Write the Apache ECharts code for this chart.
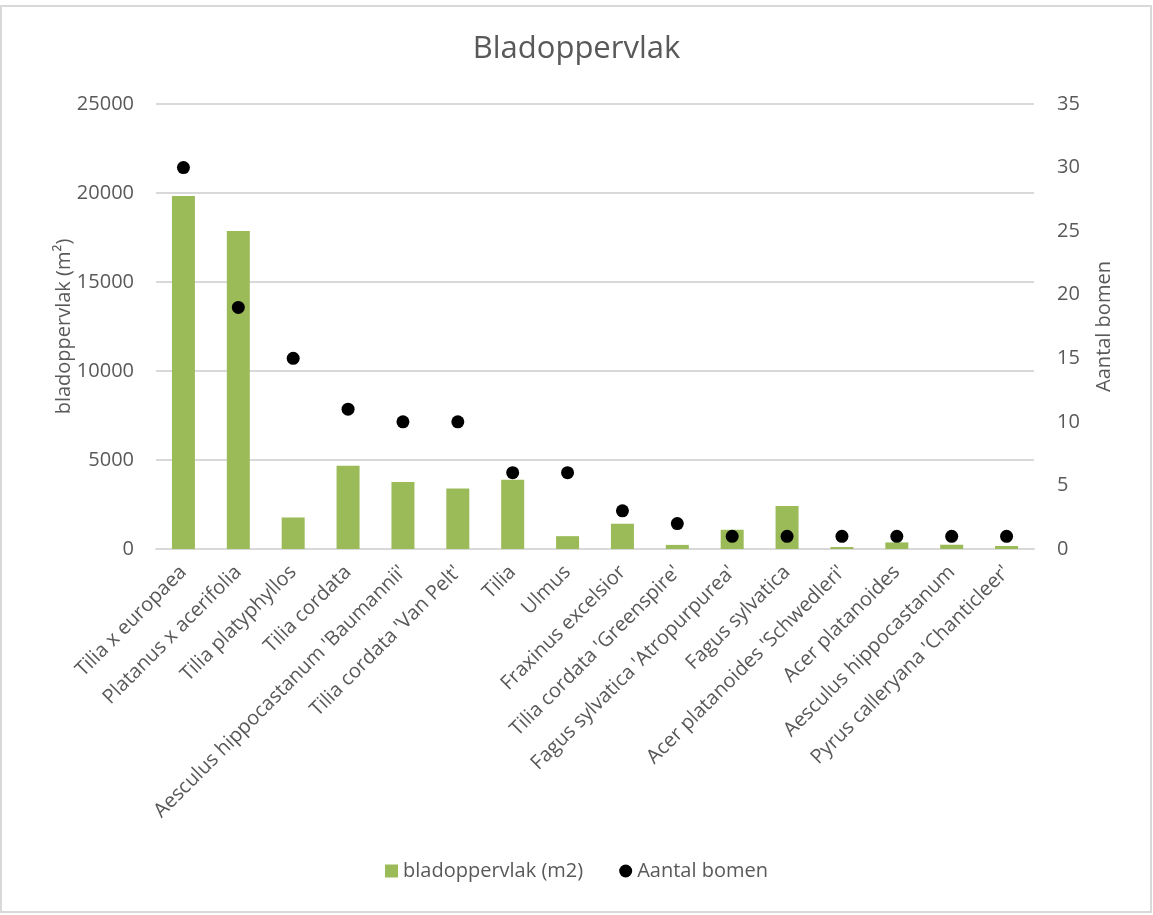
<!DOCTYPE html>
<html>
<head>
<meta charset="utf-8">
<title>Bladoppervlak</title>
<script src="https://cdn.jsdelivr.net/npm/echarts@6/dist/echarts.min.js"></script>
<style>
  html, body { margin: 0; padding: 0; background: #fff; }
  #chart { width: 1153px; height: 915px; }
</style>
</head>
<body>
<div id="chart"></div>
<script>
// soorten (categorieen)
var soorten = [
  'Tilia x europaea', 'Platanus x acerifolia', 'Tilia platyphyllos', 'Tilia cordata',
  "Aesculus hippocastanum 'Baumannii'", "Tilia cordata 'Van Pelt'", 'Tilia', 'Ulmus',
  'Fraxinus excelsior', "Tilia cordata 'Greenspire'", "Fagus sylvatica 'Atropurpurea'",
  'Fagus sylvatica', "Acer platanoides 'Schwedleri'", 'Acer platanoides',
  'Aesculus hippocastanum', "Pyrus calleryana 'Chanticleer'"
]
// bladoppervlak (m2) per soort
var bladoppervlak = [19830, 17870, 1770, 4670, 3760, 3400, 3890, 720, 1420, 230, 1080, 2410, 110, 370, 240, 170]
// aantal bomen per soort
var aantalBomen = [30, 19, 15, 11, 10, 10, 6, 6, 3, 2, 1, 1, 1, 1, 1, 1]

var grijs = '#595959'
var font = 'Open Sans'

var chart = echarts.init(document.getElementById('chart'))
var option = {
  animation: false,
  textStyle: { fontFamily: font },
  title: {
    text: 'Bladoppervlak',
    left: 'center',
    top: 29,
    textStyle: { color: grijs, fontSize: 31, fontWeight: 'normal', fontFamily: font }
  },
  graphic: [{
    type: 'rect',
    silent: true,
    shape: { x: 1, y: 6, width: 1150, height: 906 },
    style: { fill: 'none', stroke: '#d9d9d9', lineWidth: 2 }
  }],
  legend: {
    bottom: 29,
    left: 'center',
    itemGap: 36,
    itemWidth: 13,
    itemHeight: 13,
    textStyle: { color: grijs, fontSize: 20, fontFamily: font },
    data: [
      { name: 'bladoppervlak (m2)', icon: 'rect' },
      { name: 'Aantal bomen', icon: 'circle' }
    ]
  },
  grid: {
    left: 156,
    right: 119,
    top: 104,
    bottom: 366,
    containLabel: false,
    outerBoundsMode: 'none'
  },
  xAxis: {
    type: 'category',
    data: soorten,
    axisTick: { show: false },
    axisLine: { lineStyle: { color: '#d9d9d9', width: 2 } },
    axisLabel: {
      rotate: 45,
      interval: 0,
      margin: 20,
      color: grijs,
      fontSize: 20,
      fontFamily: font
    }
  },
  yAxis: [
    {
      type: 'value',
      min: 0,
      max: 25000,
      interval: 5000,
      name: 'bladoppervlak (m²)',
      nameLocation: 'middle',
      nameGap: 82,
      nameMoveOverlap: false,
      nameTextStyle: { color: grijs, fontSize: 20, fontFamily: font },
      axisLine: { show: false },
      axisTick: { show: false },
      axisLabel: {
        color: grijs, fontSize: 20, margin: 22, fontFamily: font,
        formatter: function (v) { return String(v) }
      },
      splitLine: { lineStyle: { color: '#d9d9d9', width: 2 } }
    },
    {
      type: 'value',
      min: 0,
      max: 35,
      interval: 5,
      name: 'Aantal bomen',
      nameLocation: 'middle',
      nameGap: 60,
      nameMoveOverlap: false,
      nameTextStyle: { color: grijs, fontSize: 20, fontFamily: font },
      axisLine: { show: false },
      axisTick: { show: false },
      axisLabel: { color: grijs, fontSize: 20, margin: 23, fontFamily: font },
      splitLine: { show: false }
    }
  ],
  series: [
    {
      name: 'bladoppervlak (m2)',
      type: 'bar',
      yAxisIndex: 0,
      barWidth: 23,
      itemStyle: { color: '#9bbb59' },
      data: bladoppervlak
    },
    {
      name: 'Aantal bomen',
      type: 'scatter',
      yAxisIndex: 1,
      symbol: 'circle',
      symbolSize: 13,
      itemStyle: { color: '#000', opacity: 1 },
      data: aantalBomen
    }
  ]
}
chart.setOption(option)
</script>
</body>
</html>
